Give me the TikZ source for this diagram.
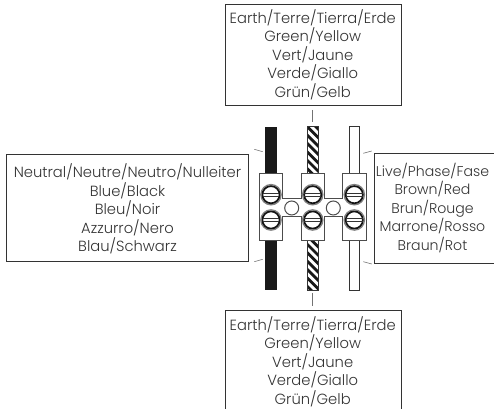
\documentclass[tikz,border=0pt]{standalone}
\usepackage{fontspec}
\setmainfont{Poppins}[UprightFont=* Light]
\definecolor{ink}{gray}{0.2}
\tikzset{
  x=0.75pt,y=-0.75pt,
  lbl/.style={inner sep=0pt,align=center,text=ink,font=\fontsize{11.05pt}{13.9pt}\selectfont},
  lblnarrow/.style={lbl,font=\fontsize{10.6pt}{13.9pt}\selectfont},
  boxline/.style={draw=ink,line width=0.7pt},
  tick/.style={draw=black!55,line width=0.45pt},
  part/.style={draw=black!70,line width=0.75pt,fill=white},
}
\newcommand{\screwat}[2]{%
  \fill[white] (#1,#2) circle (10.8);
  \draw[black!50,line width=0.9pt] (#1,#2) circle (10.2);
  \draw[black!92,line width=1.3pt] (#1,#2) circle (8.6);
  \draw[black!80,line width=0.6pt] (#1-8.4,#2-1.4) -- (#1+8.4,#2-1.4);
  \draw[black!80,line width=0.6pt] (#1-8.4,#2+1.4) -- (#1+8.4,#2+1.4);
}
\begin{document}
\begin{tikzpicture}
\useasboundingbox (0,0) rectangle (494,409);
\clip (0,0) rectangle (494,409);
% labelled frames
\draw[boxline] (225,4) rectangle (401,105);
\node[lbl] (earthtop) at (312.7,54.5) {Earth/Terre/Tierra/Erde\\Green/Yellow\\Vert/Jaune\\Verde/Giallo\\Grün/Gelb};
\draw[boxline] (225,415) -- (225,310.7) -- (401,310.7) -- (401,415);
\node[lbl] (earthbot) at (312.7,361.5) {Earth/Terre/Tierra/Erde\\Green/Yellow\\Vert/Jaune\\Verde/Giallo\\Grün/Gelb};
\draw[boxline] (6,154.7) rectangle (248.3,261);
\node[lbl] (neutral) at (127.5,209) {Neutral/Neutre/Neutro/Nulleiter\\Blue/Black\\Bleu/Noir\\Azzurro/Nero\\Blau/Schwarz};
\draw[boxline] (500,153.3) -- (374.7,153.3) -- (374.7,263.3) -- (500,263.3);
\node[lblnarrow] (live) at (432.5,208) {Live/Phase/Fase\\Brown/Red\\Brun/Rouge\\Marrone/Rosso\\Braun/Rot};
% ticks
\coordinate (ta1) at (312.7,110); \coordinate (ta2) at (312.7,121.7);
\coordinate (tb1) at (312.7,293); \coordinate (tb2) at (312.7,305.7);
\coordinate (tc1) at (254.3,149.3); \coordinate (tc2) at (262.7,151.7);
\coordinate (td1) at (254.3,261.7); \coordinate (td2) at (262.7,259.3);
\coordinate (te1) at (363.3,153.3); \coordinate (te2) at (371.7,151);
\coordinate (tf1) at (363.3,261.7); \coordinate (tf2) at (371.7,264);
\foreach \a/\b in {ta1/ta2,tb1/tb2,tc1/tc2,td1/td2,te1/te2,tf1/tf2} \draw[tick] (\a) -- (\b);
% wires
\fill[black!90] (265.3,126.7) rectangle (276.7,290);
\begin{scope}
  \clip (307.3,126.7) rectangle (318.3,290);
  \foreach \k in {0,...,21}
    \draw[black!90,line width=2.1pt] (305,116+\k*8.4) -- (321,132+\k*8.4);
\end{scope}
\draw[black!80,line width=0.7pt] (307.3,126.7) rectangle (318.3,290);
\draw[black!80,line width=0.7pt,fill=white] (349,126.7) rectangle (359.7,290);
% terminal block
\draw[part] (259.3,174) rectangle (282.3,240.7);
\draw[part] (301,174) rectangle (324,240.7);
\draw[part] (342.7,174) rectangle (366,240.7);
\draw[part] (282.3,199) rectangle (301,216.7);
\draw[part] (324,199) rectangle (342.7,216.7);
\fill[white] (281.5,199.4) rectangle (301.8,216.3);
\fill[white] (323.2,199.4) rectangle (343.5,216.3);
\draw[black!70,line width=0.75pt] (291.7,208) circle (7);
\draw[black!70,line width=0.75pt] (333.3,208) circle (7);
\foreach \sx in {271,312.7,354.3} \foreach \sy in {194.7,220} \screwat{\sx}{\sy};
\end{tikzpicture}
\end{document}
